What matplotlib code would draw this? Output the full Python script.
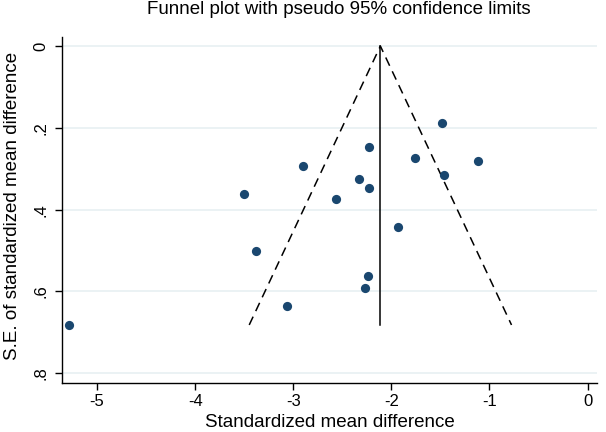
import matplotlib
matplotlib.use("Agg")
import matplotlib.pyplot as plt
import numpy as np

plt.rcParams['font.family'] = ['Liberation Sans', 'DejaVu Sans']

# Data
smd = [-5.282, -1.480, -2.231, -2.902, -1.757, -1.117, -1.461, -2.325,
       -2.223, -3.502, -2.562, -1.934, -3.383, -2.238, -2.266, -3.060]
se = [0.682, 0.187, 0.248, 0.293, 0.273, 0.281, 0.315, 0.325,
      0.348, 0.363, 0.374, 0.442, 0.500, 0.562, 0.591, 0.635]
pooled = -2.112
xticks = [-5, -4, -3, -2, -1, 0]
yticks = [0, 0.2, 0.4, 0.6, 0.8]
yticklabels = ["0", ".2", ".4", ".6", ".8"]

fig = plt.figure(figsize=(6.06, 4.32), dpi=100)
ax = fig.add_axes([0.1031, 0.1127, 0.8819, 0.8023])

se_max = max(se)
# grid lines
for t in yticks:
    ax.axhline(t, color='#e8f0f2', lw=1.2, zorder=0)

# funnel
ax.plot([pooled, pooled], [0, se_max], color='black', lw=1.1, zorder=2)
ax.plot([pooled - 1.96 * se_max, pooled, pooled + 1.96 * se_max],
        [se_max, 0, se_max], color='black', lw=1.1, ls=(0, (6, 4)), zorder=2)

ax.scatter(smd, se, s=44, color='#1a476f', zorder=3, linewidths=0)

ax.set_xlim(-5.352, 0.095)
ax.set_ylim(0.8247, -0.0228)
ax.set_xticks(xticks)
ax.set_xticklabels([str(t) for t in xticks], fontsize=12)
ax.set_yticks(yticks)
ax.set_yticklabels(yticklabels, fontsize=12, rotation=90, va='center')
ax.tick_params(axis='both', length=5, width=1, color='black')
ax.tick_params(axis='x', pad=2.5)
ax.tick_params(axis='y', pad=5)

for s in ['top', 'right']:
    ax.spines[s].set_visible(False)
for s in ['left', 'bottom']:
    ax.spines[s].set_linewidth(1.0)

ax.set_xlabel("Standardized mean difference", fontsize=13.5, labelpad=4)
ax.set_ylabel("S.E. of standardized mean difference", fontsize=13.5,
              va='center')
ax.yaxis.set_label_coords(-0.0926, 0.5115)
fig.text(0.559, 0.978, "Funnel plot with pseudo 95% confidence limits",
         ha='center', va='center', fontsize=13.5)

fig.savefig("out.png", dpi=100)
